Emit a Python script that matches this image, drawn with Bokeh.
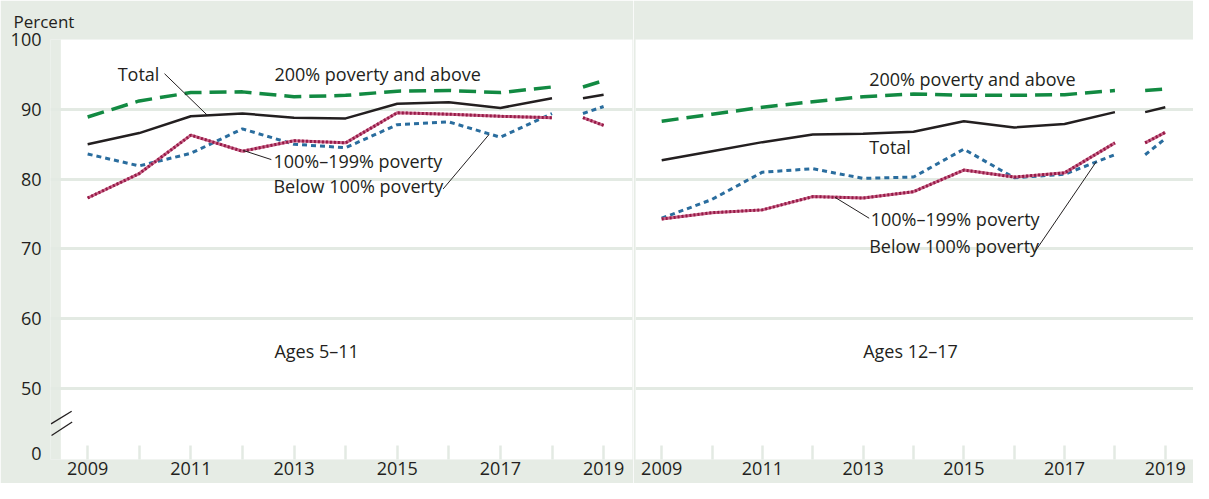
from bokeh.plotting import figure
from bokeh.layouts import row
from bokeh.models import Range1d, FixedTicker, Label
from bokeh.embed import file_html
from bokeh.resources import INLINE

# ---------------- data ----------------
years = list(range(2009, 2020))
ticks_major = [2009, 2011, 2013, 2015, 2017, 2019]
ticks_minor = [2010, 2012, 2014, 2016, 2018]
y_ticks = [40.7, 50, 60, 70, 80, 90, 100]
y_tick_labels = {40.7: "0"}
grid_ticks = [50, 60, 70, 80, 90]

# Ages 5-11
young_200 = [88.9, 91.2, 92.4, 92.5, 91.8, 92.0, 92.6, 92.7, 92.4, 93.2, 94.1]
young_total = [85.0, 86.6, 89.0, 89.4, 88.8, 88.7, 90.8, 91.0, 90.2, 91.6, 92.1]
young_mid = [77.3, 80.8, 86.3, 84.0, 85.5, 85.2, 89.5, 89.3, 89.0, 88.8, 87.7]
young_low = [83.6, 81.9, 83.7, 87.2, 85.0, 84.5, 87.8, 88.2, 86.0, 89.4, 90.4]

# Ages 12-17
old_200 = [88.3, 89.3, 90.3, 91.1, 91.8, 92.2, 92.0, 92.0, 92.1, 92.7, 92.9]
old_total = [82.7, 84.0, 85.3, 86.4, 86.5, 86.8, 88.3, 87.4, 87.9, 89.6, 90.3]
old_mid = [74.3, 75.2, 75.6, 77.5, 77.3, 78.2, 81.3, 80.3, 80.9, 85.2, 86.7]
old_low = [74.4, 77.1, 81.0, 81.5, 80.1, 80.3, 84.3, 80.2, 80.7, 83.5, 85.8]

# ---------------- styles ----------------
BG = "#e6ece5"
GRID = "#e3eae3"
TXT = "#231f20"
FONT = "Open Sans"
STUB_X = 2018.6
X0, X1 = 2008.48, 2019.56
Y0, Y1 = 39.85, 100
LEFT_EXT = 2008.28   # frame extends a little left of the white area (room for break marks)

GREEN = dict(line_color="#128a42", line_width=3.5, line_dash="17 8")
BLACK = dict(line_color="#231f20", line_width=2.5)
BLUE = dict(line_color="#2a6d9e", line_width=3, line_dash="5 4")
RED_BASE = dict(line_color="#c9668a", line_width=3)
RED_DOT = dict(line_color="#961a47", line_width=3, line_dash="2 2")

TOP = 38
BOTTOM = 24


def make_fig(width, left, right, x_start):
    p = figure(width=width, height=483,
               x_range=Range1d(x_start, X1), y_range=Range1d(Y0, Y1),
               output_backend="svg", toolbar_location=None,
               min_border_left=left, min_border_right=right,
               min_border_top=TOP, min_border_bottom=BOTTOM,
               background_fill_color=BG, border_fill_color=BG,
               outline_line_color=None)
    # white plotting area
    p.quad(left=[X0], right=[X1], bottom=[Y0], top=[Y1], fill_color="white",
           line_color=None, level="image")
    p.xgrid.visible = False
    p.ygrid.ticker = FixedTicker(ticks=grid_ticks)
    p.ygrid.grid_line_color = GRID
    p.ygrid.grid_line_width = 3

    xa = p.xaxis[0]
    xa.ticker = FixedTicker(ticks=ticks_major, minor_ticks=ticks_minor)
    xa.axis_line_color = None
    xa.major_tick_in = 14
    xa.major_tick_out = 0
    xa.minor_tick_in = 14
    xa.minor_tick_out = 0
    xa.major_tick_line_color = GRID
    xa.minor_tick_line_color = GRID
    xa.major_tick_line_width = 2.5
    xa.minor_tick_line_width = 2.5
    xa.major_label_standoff = 2
    xa.major_label_text_font = FONT
    xa.major_label_text_font_size = "18px"
    xa.major_label_text_color = TXT

    ya = p.yaxis[0]
    ya.ticker = FixedTicker(ticks=y_ticks)
    ya.major_label_overrides = y_tick_labels
    ya.axis_line_color = None
    ya.major_tick_line_color = None
    ya.minor_tick_line_color = None
    ya.major_label_standoff = 3
    ya.major_label_text_font = FONT
    ya.major_label_text_font_size = "18px"
    ya.major_label_text_color = TXT
    return p


def add_series(p, v200, vtot, vmid, vlow):
    xm = years[:-1]
    xs = [STUB_X, years[-1]]
    for vals, styles in [(v200, [GREEN]), (vtot, [BLACK]), (vlow, [BLUE]),
                         (vmid, [RED_BASE, RED_DOT])]:
        for st in styles:
            p.line(xm, vals[:-1], **st)
            p.line(xs, [vals[-2], vals[-1]], **st)


def add_label(p, x, y, text, align="left", size="18px"):
    p.add_layout(Label(x=x, y=y, text=text, text_font=FONT, text_font_size=size,
                       text_color=TXT, text_align=align, text_baseline="middle"))


def add_leader(p, x0, y0, x1, y1, w=1):
    p.segment(x0=[x0], y0=[y0], x1=[x1], y1=[y1], line_color=TXT, line_width=w)


# ---------------- left panel ----------------
p1 = make_fig(633, 50, 1, LEFT_EXT)
p1.title.text = "Percent"
p1.title.align = "left"
p1.title.offset = -37
p1.title.standoff = 14
p1.title.text_font = FONT
p1.title.text_font_size = "17px"
p1.title.text_font_style = "normal"
p1.title.text_color = TXT
add_series(p1, young_200, young_total, young_mid, young_low)
add_label(p1, 2010.39, 95.0, "Total", align="right")
add_leader(p1, 2010.49, 95.1, 2011.32, 89.15)
add_label(p1, 2012.62, 95.1, "200% poverty and above")
add_label(p1, 2012.60, 82.6, "100%\u2013199% poverty")
add_leader(p1, 2012.56, 82.8, 2012.02, 84.1)
add_label(p1, 2012.60, 79.0, "Below 100% poverty")
add_leader(p1, 2015.89, 78.6, 2016.78, 86.4)
add_label(p1, 2012.62, 55.4, "Ages 5\u201311")
# axis break marks
add_leader(p1, 2008.29, 44.95, 2008.69, 46.76, 1.3)
add_leader(p1, 2008.30, 43.29, 2008.70, 45.23, 1.3)

# ---------------- right panel ----------------
p2 = make_fig(560, 2, 0, X0)
p2.yaxis.visible = False
add_series(p2, old_200, old_total, old_mid, old_low)
add_label(p2, 2013.12, 94.4, "200% poverty and above")
add_label(p2, 2013.12, 84.6, "Total")
add_label(p2, 2013.15, 74.3, "100%\u2013199% poverty")
add_leader(p2, 2012.44, 77.4, 2013.12, 74.4)
add_label(p2, 2013.12, 70.4, "Below 100% poverty")
add_leader(p2, 2016.41, 69.6, 2017.63, 82.5)
add_label(p2, 2013.0, 55.4, "Ages 12\u201317")

layout = row(p1, p2, spacing=0)
open("out.html", "w").write(file_html(layout, INLINE))
